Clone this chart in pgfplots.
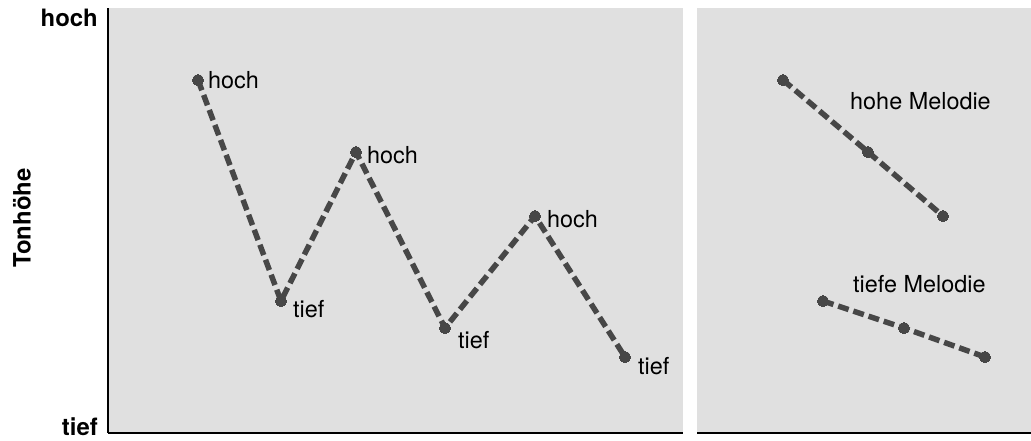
\documentclass[border=0pt]{standalone}
\usepackage{pgfplots}
\pgfplotsset{compat=1.18}
\usepackage{fontspec}
\setmainfont{TeX Gyre Heros}
\definecolor{bg}{gray}{0.88}
\definecolor{ln}{gray}{0.28}
\tikzset{
  lbl/.style={anchor=west, inner sep=0pt, font=\fontsize{23.5}{27}\selectfont},
  blbl/.style={inner sep=0pt, font=\fontsize{24}{28}\selectfont\bfseries},
}
\begin{document}
\begin{tikzpicture}
\pgfplotsset{
  panel/.style={
    anchor=south west, x=1bp, y=1bp,
    ymin=8, ymax=433,
    ticks=none, clip=false,
    axis line style={-, line width=1.3bp, black},
    axis background/.style={fill=bg, draw=none},
  },
  melody/.style={
    ln, line width=5.5bp, dash pattern=on 11bp off 5bp,
    mark=*, mark size=5.5bp, mark options={solid, fill=ln, draw=ln, line width=0pt},
  },
}
\begin{axis}[panel, at={(108bp,8bp)}, xmin=108, xmax=683,
  axis x line*=bottom, axis y line*=left]
\addplot[melody] coordinates {(198,361) (281,140) (356,289) (445,113) (535,225) (625,84)};
\node[lbl] at (axis cs:208,361) {hoch};
\node[lbl] at (axis cs:293,132) {tief};
\node[lbl] at (axis cs:367,286) {hoch};
\node[lbl] at (axis cs:458,101) {tief};
\node[lbl] at (axis cs:547,222) {hoch};
\node[lbl] at (axis cs:638,75) {tief};
\node[blbl, anchor=east] at (axis cs:98,423) {hoch};
\node[blbl, anchor=east] at (axis cs:98,14) {tief};
\node[blbl, rotate=90] at (axis cs:22,223) {Tonhöhe};
\end{axis}
\begin{axis}[panel, at={(697bp,8bp)}, xmin=697, xmax=1031,
  axis x line*=bottom, axis y line=none]
\addplot[melody] coordinates {(783,361) (868,289) (943,225)};
\addplot[melody] coordinates {(823,140) (904,113) (985,84)};
\node[lbl] at (axis cs:850,340) {hohe Melodie};
\node[lbl] at (axis cs:853,157) {tiefe Melodie};
\end{axis}
\pgfresetboundingbox
\path (0,0) rectangle (1031bp,441bp);
\end{tikzpicture}
\end{document}
